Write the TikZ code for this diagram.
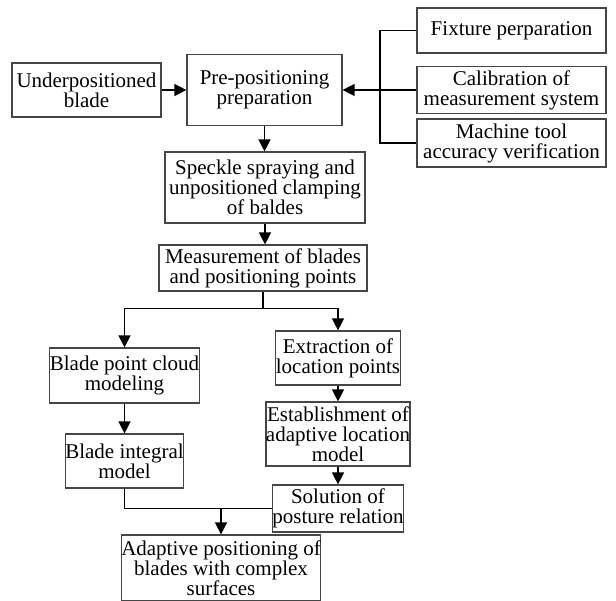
\documentclass[tikz,border=0pt]{standalone}
\usepackage{fontspec}
\setmainfont{Liberation Serif}
\usetikzlibrary{arrows.meta}
\definecolor{boxgray}{RGB}{70,70,70}

\begin{document}
\begin{tikzpicture}[x=1pt, y=-1pt,
  every node/.style={font=\fontsize{21}{20}\selectfont},
  stepbox/.style={draw=boxgray, line width=1.2pt, fill=white, align=center, inner sep=0pt},
  flow/.style={-{Triangle[length=12pt,width=12pt]}, line width=1.4pt}]

% Frame
\useasboundingbox (0,0) rectangle (616,600);

% Top row
\node[stepbox, minimum width=149pt, minimum height=54pt] (under) at (86.5,90)
  {Underpositioned\\blade};
\node[stepbox, minimum width=155pt, minimum height=71pt] (prep) at (264.5,90)
  {Pre-positioning\\preparation};

% Preparation items
\node[stepbox, minimum width=189pt, minimum height=45pt] (fix) at (511.5,30.5)
  {Fixture perparation};
\node[stepbox, minimum width=189pt, minimum height=47pt] (calib) at (511.5,90)
  {Calibration of\\measurement system};
\node[stepbox, minimum width=189pt, minimum height=48pt] (machine) at (511.5,143)
  {Machine tool\\accuracy verification};

% Main column
\node[stepbox, minimum width=200pt, minimum height=71pt] (speckle) at (265,187.5)
  {Speckle spraying and\\unpositioned clamping\\of baldes};
\node[stepbox, minimum width=208pt, minimum height=46pt] (meas) at (263,268)
  {Measurement of blades\\and positioning points};

% Left branch
\node[stepbox, minimum width=135pt, minimum height=55pt] (cloud) at (124.5,375.5)
  {Blade point cloud\\modeling};
\node[stepbox, minimum width=118pt, minimum height=54pt] (integral) at (124.5,461)
  {Blade integral\\model};

% Right branch
\node[stepbox, minimum width=118pt, minimum height=54pt] (extract) at (338,358)
  {Extraction of\\location points};
\node[stepbox, minimum width=140pt, minimum height=64pt] (establish) at (338,434)
  {Establishment of\\adaptive location\\model};
\node[stepbox, minimum width=118pt, minimum height=47pt] (solution) at (338,508.5)
  {Solution of\\posture relation};

% Result
\node[stepbox, minimum width=184pt, minimum height=66pt] (adaptive) at (221,568)
  {Adaptive positioning of\\blades with complex\\surfaces};

% Arrows
\draw[flow] (under) -- (prep);
\coordinate (bus) at (380,90);
\draw[line width=1.4pt] (fix.west) -| (bus) |- (machine.west);
\draw[flow] (calib.west) -- (prep.east);
\draw[flow] (prep.south) -- (prep.south |- speckle.north);
\draw[flow] (speckle.south) -- (speckle.south |- meas.north);

\draw[line width=1.4pt] (meas.south) -- ++(0,17) coordinate (split);
\draw[flow] (split) -| (cloud.north);
\draw[flow] (split) -| (extract.north);

\draw[flow] (cloud) -- (integral);
\draw[flow] (extract) -- (establish);
\draw[flow] (establish) -- (solution);

\coordinate (merge) at (adaptive.north |- solution.west);
\draw[line width=1.4pt] (integral.south) |- (solution.west);
\draw[flow] (merge) -- (adaptive.north);

\end{tikzpicture}
\end{document}
